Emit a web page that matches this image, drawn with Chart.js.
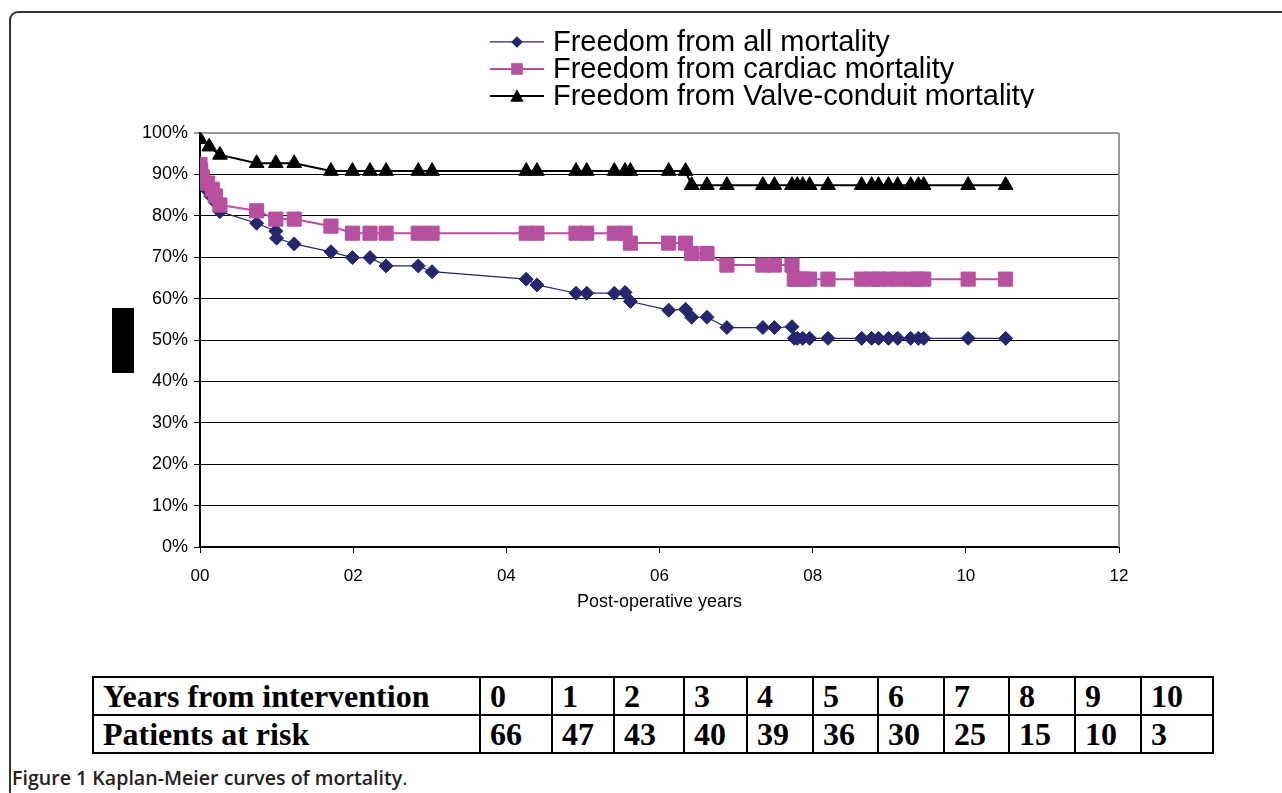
<!DOCTYPE html>
<html>
<head>
<meta charset="utf-8">
<title>Kaplan-Meier curves of mortality</title>
<script src="https://cdn.jsdelivr.net/npm/chart.js@4.4.0/dist/chart.umd.min.js"></script>
<style>
  body { margin: 0; width: 1282px; height: 793px; background: #fff; position: relative; overflow: hidden;
         font-family: "Liberation Sans", Arial, sans-serif; }
  #frame { position: absolute; left: 9px; top: 11px; width: 1300px; height: 800px;
           border-left: 2px solid #333; border-top: 2px solid #333; border-top-left-radius: 9px; }
  #chartBox { position: absolute; left: 0; top: 0; }
  #legend { position: absolute; left: 488px; top: 28px; height: 80px; overflow: hidden;
            font-size: 29px; line-height: 27px; color: #000; }
  .item { display: flex; align-items: center; height: 27px; white-space: nowrap; }
  .item svg { width: 58px; height: 27px; margin-right: 7px; flex: none; }
  #ytitle { position: absolute; left: 112px; top: 308px; width: 22px; height: 65px; background: #000; }
  #risk { position: absolute; left: 92px; top: 676px; border-collapse: collapse;
          font-family: "Liberation Serif", "Times New Roman", serif; font-weight: bold; font-size: 32px; }
  #risk td { border: 2px solid #000; height: 38px; padding: 0 0 0 9px; line-height: 34px; box-sizing: border-box; }
  #caption { position: absolute; left: 12px; top: 764px; font-family: "Open Sans", sans-serif;
             font-size: 19.6px; color: #222; white-space: nowrap; }
  #caption b { font-weight: 600; }
</style>
</head>
<body>
<div id="frame"></div>
<div id="chartBox"><canvas id="kmChart" width="1282" height="660"></canvas></div>
<div id="ytitle"></div>
<div id="legend"></div>
<table id="risk"></table>
<div id="caption"><b>Figure 1 Kaplan-Meier curves of mortality</b>.</div>

<script>
// series (x = post-operative years, y = % free of event)
const allX = [0, 0.03, 0.08, 0.14, 0.2, 0.26, 0.74, 0.99, 1.0, 1.23, 1.71, 1.99, 2.22, 2.43, 2.85, 3.03,
  4.26, 4.40, 4.91, 5.05, 5.41, 5.55, 5.62, 6.12, 6.34, 6.42, 6.62, 6.88, 7.35, 7.50, 7.73, 7.76,
  7.80, 7.87, 7.96, 8.20, 8.64, 8.77, 8.86, 8.99, 9.11, 9.28, 9.38, 9.45, 10.03, 10.52];
const allY = [89.4, 87.9, 86.4, 84.8, 83.3, 81.0, 78.2, 76.3, 74.6, 73.2, 71.3, 69.9, 69.9, 67.9, 67.9, 66.5,
  64.7, 63.3, 61.3, 61.3, 61.3, 61.5, 59.3, 57.2, 57.4, 55.5, 55.5, 53.0, 53.0, 53.0, 53.2, 50.4,
  50.4, 50.4, 50.4, 50.4, 50.4, 50.4, 50.4, 50.4, 50.4, 50.4, 50.4, 50.4, 50.4, 50.4];

const cardX = [0, 0.01, 0.03, 0.1, 0.16, 0.2, 0.26, 0.74, 0.99, 1.23, 1.71, 1.99, 2.22, 2.43, 2.85, 3.03,
  4.26, 4.40, 4.91, 5.05, 5.41, 5.55, 5.62, 6.12, 6.34, 6.42, 6.62, 6.88, 7.35, 7.50, 7.73, 7.76,
  7.80, 7.87, 7.96, 8.20, 8.64, 8.77, 8.86, 8.99, 9.11, 9.28, 9.38, 9.45, 10.03, 10.52];
const cardY = [92.4, 90.9, 89.4, 87.9, 86.4, 84.8, 82.6, 81.2, 79.2, 79.2, 77.5, 75.8, 75.8, 75.8, 75.8, 75.8,
  75.8, 75.8, 75.8, 75.8, 75.8, 75.8, 73.4, 73.4, 73.4, 70.9, 70.9, 68.1, 68.1, 68.1, 68.1, 64.7,
  64.7, 64.7, 64.7, 64.7, 64.7, 64.7, 64.7, 64.7, 64.7, 64.7, 64.7, 64.7, 64.7, 64.7];

const valveX = [0, 0.12, 0.26, 0.74, 0.99, 1.23, 1.71, 1.99, 2.22, 2.43, 2.85, 3.03,
  4.26, 4.40, 4.91, 5.05, 5.41, 5.55, 5.62, 6.12, 6.34, 6.42, 6.62, 6.88, 7.35, 7.50, 7.73,
  7.80, 7.87, 7.96, 8.20, 8.64, 8.77, 8.86, 8.99, 9.11, 9.28, 9.38, 9.45, 10.03, 10.52];
const valveY = [98.5, 96.7, 94.7, 92.7, 92.7, 92.7, 90.8, 90.8, 90.8, 90.8, 90.8, 90.8,
  90.8, 90.8, 90.8, 90.8, 90.8, 90.8, 90.8, 90.8, 90.8, 87.4, 87.4, 87.4, 87.4, 87.4, 87.4,
  87.4, 87.4, 87.4, 87.4, 87.4, 87.4, 87.4, 87.4, 87.4, 87.4, 87.4, 87.4, 87.4, 87.4];

const seriesNames = ["Freedom from all mortality", "Freedom from cardiac mortality",
  "Freedom from Valve-conduit mortality"];

// patients-at-risk table
const riskYears = ["0", "1", "2", "3", "4", "5", "6", "7", "8", "9", "10"];
const riskCounts = ["66", "47", "43", "40", "39", "36", "30", "25", "15", "10", "3"];

const NAVY = "#26266e";
const PINK = "#b6509f";

function pts(xs, ys) {
  return xs.map((x, i) => ({ x: x, y: ys[i] }));
}

// gray right edge of the plot area
const plotFrame = {
  id: "plotFrame",
  beforeDatasetsDraw(chart) {
    const a = chart.chartArea;
    const ctx = chart.ctx;
    ctx.save();
    ctx.strokeStyle = "#999";
    ctx.lineWidth = 2;
    ctx.beginPath();
    ctx.moveTo(a.right, a.top);
    ctx.lineTo(a.right, a.bottom);
    ctx.stroke();
    ctx.restore();
  }
};

new Chart(document.getElementById("kmChart"), {
  type: "scatter",
  data: {
    datasets: [
      {
        label: seriesNames[2],
        data: pts(valveX, valveY),
        showLine: true,
        borderColor: "#000",
        backgroundColor: "#000",
        borderWidth: 2,
        pointStyle: "triangle",
        pointRadius: 8.5,
        pointBorderWidth: 1,
      },
      {
        label: seriesNames[1],
        data: pts(cardX, cardY),
        showLine: true,
        borderColor: PINK,
        backgroundColor: PINK,
        borderWidth: 2,
        pointStyle: "rect",
        pointRadius: 10,
        pointBorderWidth: 1,
      },
      {
        label: seriesNames[0],
        data: pts(allX, allY),
        showLine: true,
        borderColor: NAVY,
        backgroundColor: NAVY,
        borderWidth: 1.2,
        pointStyle: "rectRot",
        pointRadius: 7,
        pointBorderWidth: 1,
      },
    ],
  },
  options: {
    responsive: false,
    animation: false,
    events: [],
    layout: { padding: { left: 140, right: 163, top: 133, bottom: 43 } },
    plugins: { legend: { display: false }, tooltip: { enabled: false } },
    scales: {
      x: {
        type: "linear",
        min: 0,
        max: 12,
        afterFit: (s) => { s.height = 70; },
        border: { display: true, color: "#000", width: 2 },
        grid: { drawOnChartArea: false, drawTicks: true, tickLength: 6, color: "#000" },
        ticks: {
          stepSize: 2,
          padding: 13,
          color: "#000",
          font: { family: "Liberation Sans", size: 17 },
          callback: (v) => (v < 10 ? "0" + v : "" + v),
        },
        title: {
          display: true,
          text: "Post-operative years",
          color: "#000",
          font: { family: "Liberation Sans", size: 18 },
        },
      },
      y: {
        min: 0,
        max: 100,
        afterFit: (s) => { s.width = 60; },
        border: { display: true, color: "#000", width: 2 },
        grid: {
          drawTicks: true,
          tickLength: 6,
          color: (c) => (c.tick && c.tick.value === 100 ? "#999" : "#000"),
          lineWidth: (c) => (c.tick && c.tick.value === 100 ? 2 : 1),
        },
        ticks: {
          stepSize: 10,
          padding: 6,
          color: "#000",
          font: { family: "Liberation Sans", size: 18 },
          callback: (v) => v + "%",
        },
      },
    },
  },
  plugins: [plotFrame],
});

// legend
const symbols = [
  `<line x1="2" y1="14" x2="58" y2="14" stroke="${NAVY}" stroke-width="1.3"/>
   <polygon points="30,8 36,14 30,20 24,14" fill="${NAVY}"/>`,
  `<line x1="2" y1="14" x2="58" y2="14" stroke="${PINK}" stroke-width="2"/>
   <rect x="24" y="8" width="12" height="12" fill="${PINK}"/>`,
  `<line x1="2" y1="14" x2="58" y2="14" stroke="#000" stroke-width="2"/>
   <polygon points="30,7 37,20 23,20" fill="#000"/>`,
];
const legend = document.getElementById("legend");
seriesNames.forEach((name, i) => {
  const row = document.createElement("div");
  row.className = "item";
  row.innerHTML = `<svg viewBox="0 0 60 27">${symbols[i]}</svg><span>${name}</span>`;
  legend.appendChild(row);
});

// table
const colWidths = [387, 72, 62, 70, 63, 66, 65, 66, 65, 66, 66, 72];
const table = document.getElementById("risk");
[["Years from intervention"].concat(riskYears), ["Patients at risk"].concat(riskCounts)].forEach((cells) => {
  const tr = document.createElement("tr");
  cells.forEach((c, j) => {
    const td = document.createElement("td");
    td.textContent = c;
    td.style.width = colWidths[j] + "px";
    tr.appendChild(td);
  });
  table.appendChild(tr);
});
</script>
</body>
</html>
